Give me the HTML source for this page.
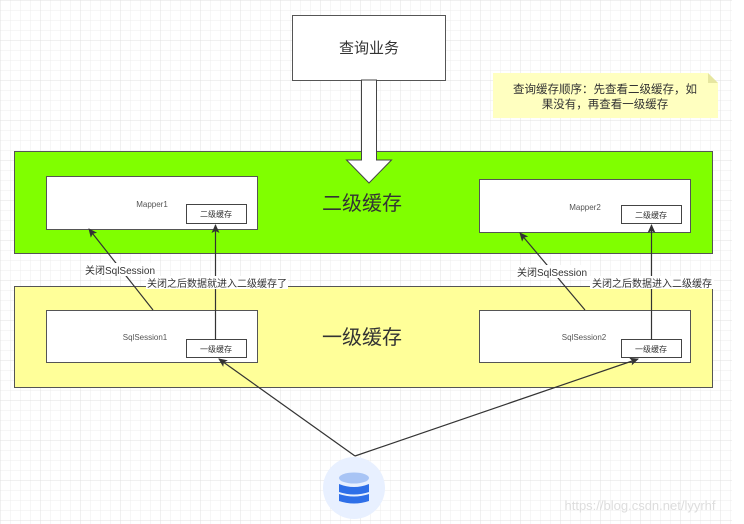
<!DOCTYPE html>
<html><head><meta charset="utf-8"><style>
html,body{margin:0;padding:0;background:#fff}
svg{display:block}
text{font-family:"Liberation Sans","Noto Sans CJK SC",sans-serif}
</style></head><body>
<svg width="744" height="524" xmlns="http://www.w3.org/2000/svg">
<defs>
<pattern id="g" width="10" height="10" patternUnits="userSpaceOnUse"><path d="M10 0H0V10" fill="none" stroke="#ececec" stroke-width="1"/></pattern>
<pattern id="G" width="40" height="40" patternUnits="userSpaceOnUse"><rect width="40" height="40" fill="url(#g)"/><path d="M40 0H0V40" fill="none" stroke="#e0e0e0" stroke-width="1"/></pattern>
<marker id="a" markerWidth="10" markerHeight="10" refX="8" refY="4" orient="auto" markerUnits="userSpaceOnUse"><path d="M0 0L9 4L0 8L2 4z" fill="#333"/></marker>
</defs>
<rect width="732" height="524" fill="url(#G)"/>
<rect x="292.5" y="15.5" width="153" height="65" fill="#fff" stroke="#555"/>
<text x="369" y="53" font-size="15" text-anchor="middle" fill="#333">查询业务</text>
<path d="M493 73H708L718 83V118H493z" fill="#ffffc0"/>
<path d="M708 73V83H718" fill="#e6e6a0"/>
<text x="605" y="93" font-size="11.5" text-anchor="middle" fill="#333">查询缓存顺序：先查看二级缓存，如</text>
<text x="605" y="108" font-size="11.5" text-anchor="middle" fill="#333">果没有，再查看一级缓存</text>
<rect x="14.5" y="151.5" width="698" height="102" fill="#80ff00" stroke="#555"/>
<path d="M361.5 80V160H346.5L369 183L391.5 160H376.5V80z" fill="#fff" stroke="#444"/>
<text x="362" y="210" font-size="20" text-anchor="middle" fill="#333">二级缓存</text>
<rect x="46.5" y="176.5" width="211" height="53" fill="#fff" stroke="#555"/>
<text x="152" y="207" font-size="8" text-anchor="middle" fill="#555">Mapper1</text>
<rect x="186.5" y="204.5" width="60" height="19" fill="#fff" stroke="#444"/>
<text x="216" y="217" font-size="8" text-anchor="middle" fill="#333">二级缓存</text>
<rect x="479.5" y="179.5" width="211" height="53" fill="#fff" stroke="#555"/>
<text x="585" y="210" font-size="8" text-anchor="middle" fill="#555">Mapper2</text>
<rect x="621.5" y="205.5" width="60" height="18" fill="#fff" stroke="#444"/>
<text x="651" y="218" font-size="8" text-anchor="middle" fill="#333">二级缓存</text>
<rect x="14.5" y="286.5" width="698" height="101" fill="#ffff99" stroke="#555"/>
<text x="362" y="344" font-size="20" text-anchor="middle" fill="#333">一级缓存</text>
<rect x="46.5" y="310.5" width="211" height="52" fill="#fff" stroke="#555"/>
<text x="145" y="340" font-size="8" text-anchor="middle" fill="#555">SqlSession1</text>
<rect x="186.5" y="339.5" width="60" height="18" fill="#fff" stroke="#444"/>
<text x="216" y="352" font-size="8" text-anchor="middle" fill="#333">一级缓存</text>
<rect x="479.5" y="310.5" width="211" height="52" fill="#fff" stroke="#555"/>
<text x="584" y="340" font-size="8" text-anchor="middle" fill="#555">SqlSession2</text>
<rect x="621.5" y="339.5" width="60" height="18" fill="#fff" stroke="#444"/>
<text x="651" y="352" font-size="8" text-anchor="middle" fill="#333">一级缓存</text>
<g stroke="#333" stroke-width="1.2" fill="none">
<path d="M153 310L89 229" marker-end="url(#a)"/>
<path d="M215.5 340V225" marker-end="url(#a)"/>
<path d="M585 310L520 233" marker-end="url(#a)"/>
<path d="M651.5 340V225" marker-end="url(#a)"/>
<path d="M355 456L219 359" marker-end="url(#a)"/>
<path d="M355 456L638 359" marker-end="url(#a)"/>
</g>
<rect x="84" y="263" width="72" height="13" fill="#fff"/>
<text x="120" y="274" font-size="10" text-anchor="middle" fill="#333">关闭SqlSession</text>
<rect x="146" y="276" width="142" height="13" fill="#fff"/>
<text x="217" y="287" font-size="10" text-anchor="middle" fill="#333">关闭之后数据就进入二级缓存了</text>
<rect x="516" y="265" width="72" height="13" fill="#fff"/>
<text x="552" y="276" font-size="10" text-anchor="middle" fill="#333">关闭SqlSession</text>
<rect x="590" y="276" width="124" height="13" fill="#fff"/>
<text x="652" y="287" font-size="10" text-anchor="middle" fill="#333">关闭之后数据进入二级缓存</text>
<circle cx="354" cy="488" r="31" fill="#e8f0ff"/>
<ellipse cx="354" cy="478" rx="15" ry="5.5" fill="#a8c4f5"/>
<path d="M339 484Q354 490 369 484V492Q354 497 339 492z" fill="#2e6fe8"/>
<path d="M339 494Q354 499 369 494V501Q354 506 339 501z" fill="#2e6fe8"/>
<text x="640" y="510" font-size="13" text-anchor="middle" fill="#ddd">https://blog.csdn.net/lyyrhf</text>
</svg>
</body></html>
